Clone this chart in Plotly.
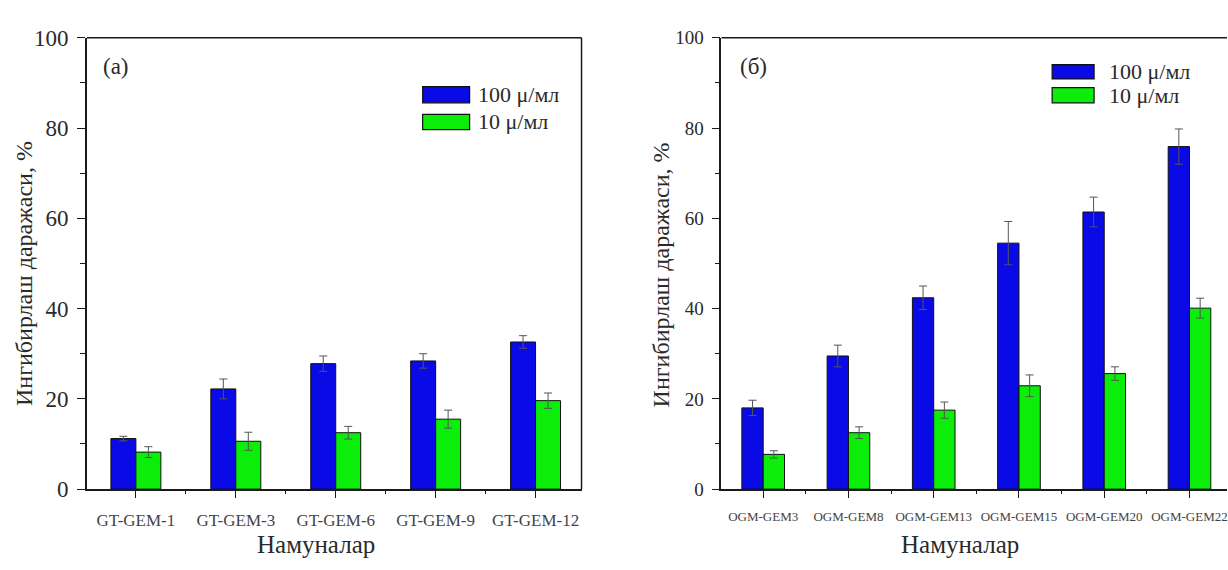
import plotly.graph_objects as go

# Panel (a): GT-GEM samples
samples_a = ["GT-GEM-1", "GT-GEM-3", "GT-GEM-6", "GT-GEM-9", "GT-GEM-12"]
a_100 = [11.2, 22.2, 27.8, 28.4, 32.6]
a_100_err = [0.5, 2.2, 1.7, 1.6, 1.4]
a_10 = [8.2, 10.6, 12.5, 15.5, 19.6]
a_10_err = [1.2, 2.0, 1.4, 2.0, 1.7]

# Panel (б): OGM-GEM samples
samples_b = ["OGM-GEM3", "OGM-GEM8", "OGM-GEM13", "OGM-GEM15", "OGM-GEM20", "OGM-GEM22"]
b_100 = [18.0, 29.5, 42.4, 54.5, 61.4, 75.9]
b_100_err = [1.7, 2.4, 2.6, 4.8, 3.3, 3.9]
b_10 = [7.7, 12.5, 17.5, 22.9, 25.6, 40.1]
b_10_err = [0.8, 1.3, 1.8, 2.4, 1.5, 2.2]

series_names = ["100 μ/мл", "10 μ/мл"]
y_title = "Ингибирлаш даражаси, %"
x_title = "Намуналар"
BLUE = "#0A0AE6"
GREEN = "#0AEE0A"
FONT = "Times New Roman, Liberation Serif, serif"
INK = "#2a2a2a"
AXIS = "#1a1a1a"

fig = go.Figure()


def add_bars(xs, vals, errs, color, group, xa, ya):
    fig.add_trace(go.Bar(
        x=list(range(len(xs))), y=vals, offsetgroup=group,
        marker=dict(color=color, line=dict(color="#101010", width=1)),
        error_y=dict(type="data", array=errs, visible=True,
                     color="#555555", thickness=1, width=4),
        xaxis=xa, yaxis=ya, showlegend=False,
    ))


add_bars(samples_a, a_100, a_100_err, BLUE, "hi", "x", "y")
add_bars(samples_a, a_10, a_10_err, GREEN, "lo", "x", "y")
add_bars(samples_b, b_100, b_100_err, BLUE, "hi", "x2", "y2")
add_bars(samples_b, b_10, b_10_err, GREEN, "lo", "x2", "y2")

W, H = 1228, 570
y_dom = [1 - 499 / H, 1 - 27 / H]

common_x = dict(
    showline=True, linecolor=AXIS, linewidth=1.5, mirror=False,
    ticks="outside", ticklen=7, tickcolor=AXIS, showgrid=False,
    zeroline=False, ticklabelstandoff=8, ticklabeloverflow="allow",
    minor=dict(ticks="outside", ticklen=3, tick0=0.5, dtick=1, tickcolor=AXIS),
)
common_y = dict(
    range=[0, 100], tickvals=[0, 20, 40, 60, 80, 100],
    showline=True, linecolor=AXIS, linewidth=1.5, mirror=False,
    ticks="outside", ticklen=8, tickcolor=AXIS, showgrid=False,
    zeroline=False, ticklabelstandoff=4,
    minor=dict(ticks="outside", ticklen=5, dtick=10, tickcolor=AXIS),
)

fig.update_layout(
    width=W, height=H,
    margin=dict(l=0, r=0, t=0, b=0),
    paper_bgcolor="white", plot_bgcolor="white",
    barmode="group", bargap=0.5, bargroupgap=0,
    xaxis=dict(common_x, domain=[87 / W, 582 / W], range=[-0.49, 4.46], anchor="y",
               tickvals=list(range(len(samples_a))), ticktext=samples_a,
               tickfont=dict(family=FONT, size=17, color="#444")),
    yaxis=dict(common_y, domain=y_dom, anchor="x",
               tickfont=dict(family=FONT, size=23, color=INK)),
    xaxis2=dict(common_x, domain=[722 / W, 1.0], range=[-0.49, 5.44], anchor="y2",
                tickvals=list(range(len(samples_b))), ticktext=samples_b,
                tickfont=dict(family=FONT, size=13, color="#444")),
    yaxis2=dict(common_y, domain=y_dom, anchor="x2",
                tickfont=dict(family=FONT, size=19, color=INK)),
)

# Frame lines: top and right for panel (a), top only for panel (б)
frame = dict(color=AXIS, width=1.5)
fig.add_shape(type="line", xref="x domain", yref="y domain", x0=0, x1=1, y0=1, y1=1, line=frame)
fig.add_shape(type="line", xref="x domain", yref="y domain", x0=1, x1=1, y0=0, y1=1, line=frame)
fig.add_shape(type="line", xref="x2 domain", yref="y2 domain", x0=0, x1=1, y0=1, y1=1, line=frame)


def paper_text(xpix, ypix, text, size, angle=0, xanchor="center"):
    fig.add_annotation(x=xpix / W, y=1 - ypix / H, xref="paper", yref="paper", text=text,
                       showarrow=False, xanchor=xanchor, yanchor="middle", textangle=angle,
                       font=dict(family=FONT, size=size, color=INK))


# Axis titles
paper_text(24, 273, y_title, 24, angle=-90)
paper_text(661, 275, y_title, 24, angle=-90)
paper_text(316, 557, x_title, 25)
paper_text(961, 557, x_title, 25)

# Panel tags
paper_text(116, 57, "(a)", 23)
paper_text(754, 57, "(б)", 23)


# Legend boxes drawn per panel
def legend(x0, x1, rows, text_x):
    for (ya, yb), name, color in zip(rows, series_names, [BLUE, GREEN]):
        fig.add_shape(type="rect", xref="paper", yref="paper",
                      x0=x0 / W, x1=x1 / W, y0=1 - yb / H, y1=1 - ya / H,
                      fillcolor=color, line=dict(color="#101010", width=1.2))
        paper_text(text_x, (ya + yb) / 2, name, 22, xanchor="left")


legend(423, 470, [(78, 95), (107, 123)], 476)
legend(1053, 1095, [(55, 70), (79, 95)], 1108)

fig.write_html("out.html")
